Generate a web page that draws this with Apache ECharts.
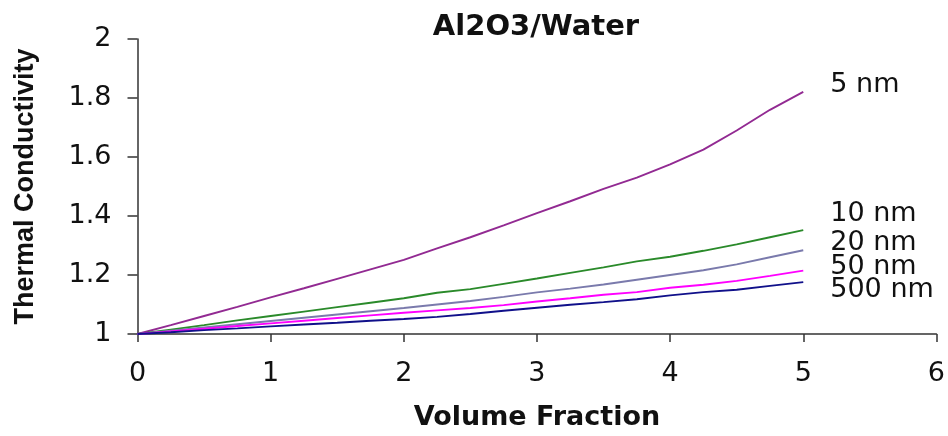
<!DOCTYPE html>
<html>
<head>
<meta charset="utf-8">
<script src="https://cdn.jsdelivr.net/npm/echarts@6/dist/echarts.min.js"></script>
<style>
html,body{margin:0;padding:0;background:#fff;}
#chart{width:948px;height:436px;}
</style>
</head>
<body>
<div id="chart"></div>
<script>
const xValues = [0,0.25,0.5,0.75,1,1.25,1.5,1.75,2,2.25,2.5,2.75,3,3.25,3.5,3.75,4,4.25,4.5,4.75,5];
const seriesNames = ['5 nm','10 nm','20 nm','50 nm','500 nm'];
const k5nm   = [1.000,1.030,1.061,1.092,1.124,1.155,1.187,1.219,1.251,1.290,1.328,1.368,1.410,1.450,1.492,1.530,1.575,1.625,1.690,1.760,1.821];
const k10nm  = [1.000,1.015,1.030,1.046,1.061,1.076,1.091,1.106,1.121,1.140,1.152,1.170,1.188,1.207,1.226,1.246,1.262,1.282,1.304,1.328,1.352];
const k20nm  = [1.000,1.011,1.022,1.033,1.044,1.055,1.066,1.077,1.088,1.100,1.112,1.126,1.141,1.154,1.168,1.184,1.200,1.216,1.236,1.260,1.284];
const k50nm  = [1.000,1.009,1.018,1.027,1.036,1.045,1.054,1.063,1.072,1.080,1.088,1.098,1.110,1.121,1.133,1.142,1.157,1.167,1.180,1.197,1.215];
const k500nm = [1.000,1.006,1.013,1.019,1.026,1.032,1.038,1.045,1.051,1.058,1.068,1.079,1.089,1.099,1.108,1.118,1.131,1.142,1.150,1.163,1.176];
const xTicks = [0,1,2,3,4,5,6];
const yTicks = [1,1.2,1.4,1.6,1.8,2];

const allValues = [k5nm,k10nm,k20nm,k50nm,k500nm];
const colors = ['#922a92','#2a8a2a','#7a7aac','#ff00ff','#10108a'];
const labelDy = [-7,-16,-7,-4,8];

const chart = echarts.init(document.getElementById('chart'));
const series = seriesNames.map((name,i)=>({
  name: name,
  type: 'line',
  data: xValues.map((x,j)=>[x, allValues[i][j]]),
  showSymbol: false,
  symbol: 'none',
  smooth: false,
  lineStyle: {color: colors[i], width: 1.9},
  itemStyle: {color: colors[i]},
  endLabel: {
    show: true,
    formatter: '{a}',
    color: '#111',
    fontFamily: 'DejaVu Sans',
    fontSize: 27,
    distance: 27,
    offset: [0, labelDy[i]]
  },
  emphasis: {disabled: true},
  animation: false
}));

chart.setOption({
  backgroundColor: '#fff',
  animation: false,
  title: {
    text: 'Al2O3/Water',
    left: 531,
    top: 8,
    textAlign: 'center',
    textStyle: {fontFamily: 'DejaVu Sans', fontWeight: 'bold', fontSize: 29, color: '#111'}
  },
  grid: {left: 137.5, right: 7, top: 39, bottom: 102, containLabel: false},
  xAxis: {
    type: 'value',
    min: xTicks[0], max: xTicks[xTicks.length-1], interval: 1,
    name: 'Volume Fraction',
    nameLocation: 'middle',
    nameGap: 70,
    nameTextStyle: {fontFamily: 'DejaVu Sans', fontWeight: 'bold', fontSize: 27, color: '#111'},
    axisLine: {show: true, onZero: false, lineStyle: {color: '#333', width: 1.5}},
    axisTick: {show: true, inside: false, length: 8, lineStyle: {color: '#333', width: 1.5}},
    axisLabel: {fontFamily: 'DejaVu Sans', fontSize: 27, color: '#111', margin: 26},
    splitLine: {show: false}
  },
  yAxis: {
    type: 'value',
    min: yTicks[0], max: yTicks[yTicks.length-1], interval: 0.2,
    name: 'Thermal Conductivity',
    nameLocation: 'middle',
    nameGap: 98,
    nameTextStyle: {fontFamily: 'Liberation Sans', fontWeight: 'bold', fontSize: 27, color: '#111'},
    axisLine: {show: true, lineStyle: {color: '#333', width: 1.5}},
    axisTick: {show: true, inside: false, length: 10, lineStyle: {color: '#333', width: 1.5}},
    axisLabel: {fontFamily: 'DejaVu Sans', fontSize: 27, color: '#111', margin: 26,
      formatter: v => String(Math.round(v*10)/10)},
    splitLine: {show: false}
  },
  series: series
});
</script>
</body>
</html>
